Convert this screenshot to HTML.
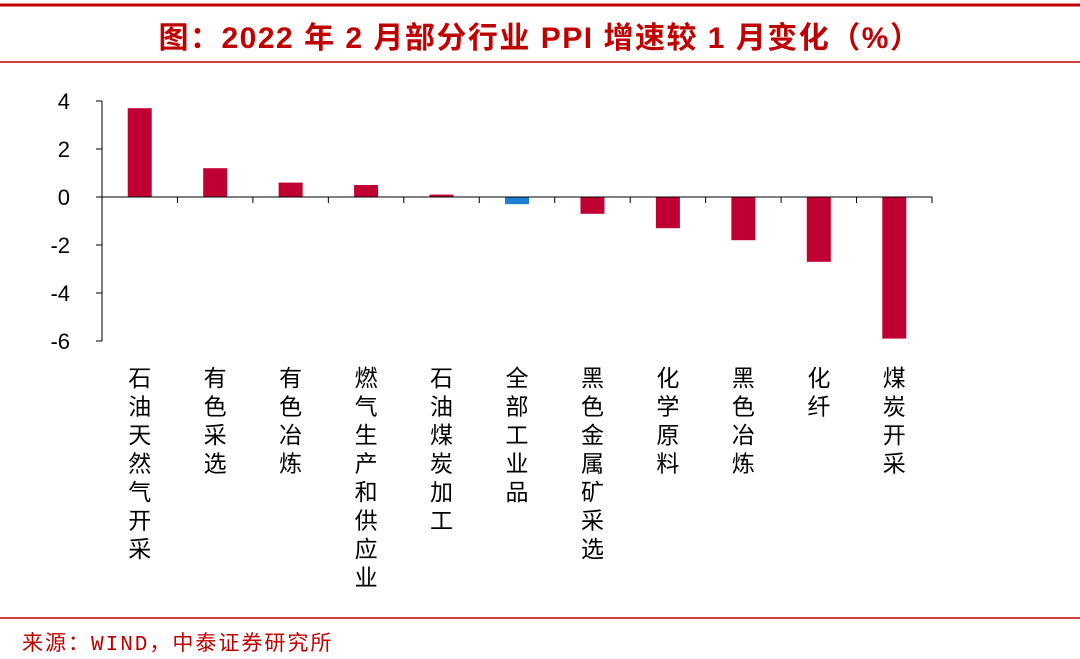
<!DOCTYPE html>
<html><head><meta charset="utf-8">
<style>
body{margin:0;background:#fff;}
svg{display:block;font-family:"Liberation Sans","Noto Sans CJK SC",sans-serif;}
</style></head>
<body>
<svg id="c" width="1080" height="659" viewBox="0 0 1080 659" xmlns="http://www.w3.org/2000/svg">
<line x1="0" y1="5" x2="1080" y2="5" stroke="#c00000" stroke-width="3"/>
<text x="540" y="48" text-anchor="middle" font-size="30" font-weight="bold" fill="#c00000" letter-spacing="1.5">图：2022 年 2 月部分行业 PPI 增速较 1 月变化（%）</text>
<line x1="0" y1="62" x2="1080" y2="62" stroke="#c00000" stroke-width="1.5"/>
<line x1="0" y1="618" x2="1080" y2="618" stroke="#c00000" stroke-width="1.5"/>
<text x="22" y="650" font-size="21" fill="#c00000" letter-spacing="2" font-family="'Liberation Mono','Noto Sans CJK SC',monospace">来源：WIND，中泰证券研究所</text>
<g id="plot"></g>
</svg>
<script>
const categories=["石油天然气开采","有色采选","有色冶炼","燃气生产和供应业","石油煤炭加工","全部工业品","黑色金属矿采选","化学原料","黑色冶炼","化纤","煤炭开采"];
const values=[3.7,1.2,0.6,0.5,0.1,-0.3,-0.7,-1.3,-1.8,-2.7,-5.9];
const highlight=["全部工业品"];
const yTicks=[4,2,0,-2,-4,-6];
const NS="http://www.w3.org/2000/svg";
const g=document.getElementById('plot');
const x0=102,x1=932,yZero=197,pxPer=24;
const step=(x1-x0)/categories.length;
const y=v=>yZero-v*pxPer;
const xc=i=>x0+step*(i+0.5);
function mk(t,a){const e=document.createElementNS(NS,t);for(const k in a)e.setAttribute(k,a[k]);g.appendChild(e);return e;}
let ax=mk('line',{x1:x0,y1:y(4),x2:x0,y2:y(-6),stroke:'#000','stroke-width':1});


yTicks.forEach(t=>{
  let l=mk('line',{x1:x0-6,y1:y(t),x2:x0,y2:y(t),stroke:'#000'});
  
  
  let tx=mk('text',{x:x0-32,y:y(t)+8,'text-anchor':'end','font-size':22,fill:'#000'});
  tx.textContent=t;
  
  
});
categories.forEach((c,i)=>{
  const v=values[i];
  let b=mk('rect',{x:xc(i)-12,y:Math.min(y(v),yZero),width:24,height:Math.abs(y(v)-yZero),fill:highlight.includes(c)?'#1f7fd0':'#c00033'});
  
  
  const lab=document.createElementNS(NS,'text');
  lab.setAttribute('font-size',23);lab.setAttribute('text-anchor','middle');
  [...c].forEach((ch,k)=>{const ts=document.createElementNS(NS,'tspan');ts.setAttribute('x',xc(i));ts.setAttribute('y',386+k*28.5);ts.textContent=ch;lab.appendChild(ts);});
  
  
  g.appendChild(lab);
});
let xa=mk('line',{x1:x0,y1:yZero,x2:x1,y2:yZero,stroke:'#000'});


for(let i=0;i<=categories.length;i++){
  let t=mk('line',{x1:x0+step*i,y1:yZero,x2:x0+step*i,y2:yZero+6,stroke:'#000'});
  
  
}
</script>
</body></html>
